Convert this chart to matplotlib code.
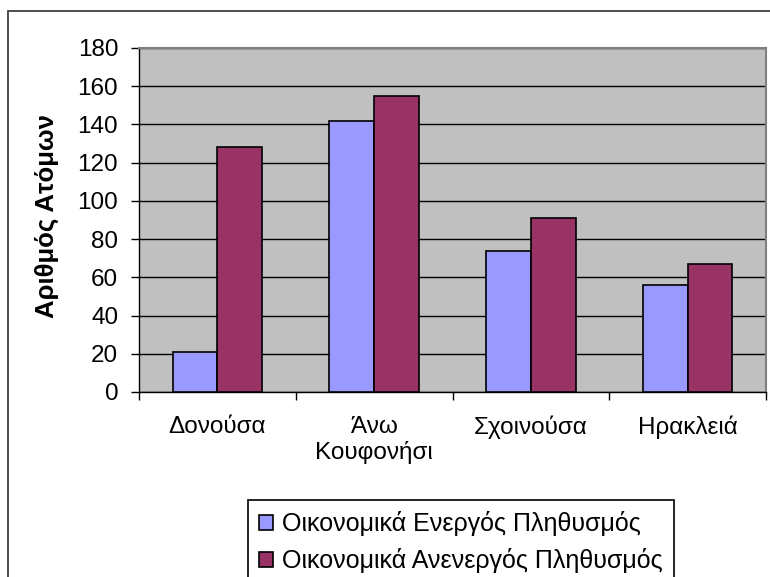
import matplotlib.pyplot as plt
import matplotlib.patches as patches
import numpy as np

plt.rcParams['font.family'] = ['Liberation Sans', 'DejaVu Sans']

categories = ["Δονούσα", "Άνω\nΚουφονήσι", "Σχοινούσα", "Ηρακλειά"]
active = [21, 142, 74, 56]
inactive = [128, 155, 91, 67]
labels = ["Οικονομικά Ενεργός Πληθυσμός", "Οικονομικά Ανενεργός Πληθυσμός"]
yticks = np.arange(0, 181, 20)

W, H = 770, 577
fig = plt.figure(figsize=(W / 100, H / 100), dpi=100)

# outer chart frame (runs off right and bottom)
fig.patches.append(patches.Rectangle((8 / W, -0.1), 1.2, 1 - 11 / H + 0.1,
                                     transform=fig.transFigure, fill=False,
                                     edgecolor="#404040", linewidth=1.3))

ax = fig.add_axes([139 / W, 1 - 392 / H, 627 / W, 344 / H])
ax.set_facecolor("#C0C0C0")

x = np.arange(len(categories))
bw = 1 / 3.5
b1 = ax.bar(x - bw / 2, active, bw, color="#9999FF", edgecolor="black", linewidth=1.2, zorder=3)
b2 = ax.bar(x + bw / 2, inactive, bw, color="#993366", edgecolor="black", linewidth=1.2, zorder=3)

ax.set_xlim(-0.5, len(categories) - 0.5)
ax.set_ylim(0, 180)
ax.set_yticks(yticks)
ax.yaxis.grid(True, color="black", linewidth=1.0, zorder=1)
ax.set_axisbelow(True)

ax.set_xticks(x)
ax.set_xticklabels(categories, fontsize=17.5, linespacing=1.2)
ax.set_xticks(np.arange(-0.5, len(categories), 1), minor=True)
ax.tick_params(axis="x", which="major", length=0, pad=17)
ax.tick_params(axis="x", which="minor", length=6, width=1, direction="out")
ax.tick_params(axis="y", labelsize=17.5, length=6, width=1, pad=9, direction="out")

for s in ["top", "right"]:
    ax.spines[s].set_color("#808080")
    ax.spines[s].set_linewidth(1.5)
for s in ["left", "bottom"]:
    ax.spines[s].set_color("black")
    ax.spines[s].set_linewidth(1.0)

ax.set_ylabel("Αριθμός Ατόμων", fontsize=18.5, fontweight="bold")
ax.yaxis.set_label_coords(-0.127, 0.51)

leg = fig.legend([b1, b2], labels, loc="upper left",
                 bbox_to_anchor=(248 / W, 1 - 500 / H), borderaxespad=0,
                 fontsize=18, handlelength=0.55, handleheight=0.55,
                 handletextpad=0.35, labelspacing=0.47, borderpad=0.45,
                 fancybox=False, framealpha=1, edgecolor="black")
leg.get_frame().set_linewidth(1.2)

fig.savefig("out.png", dpi=100)
